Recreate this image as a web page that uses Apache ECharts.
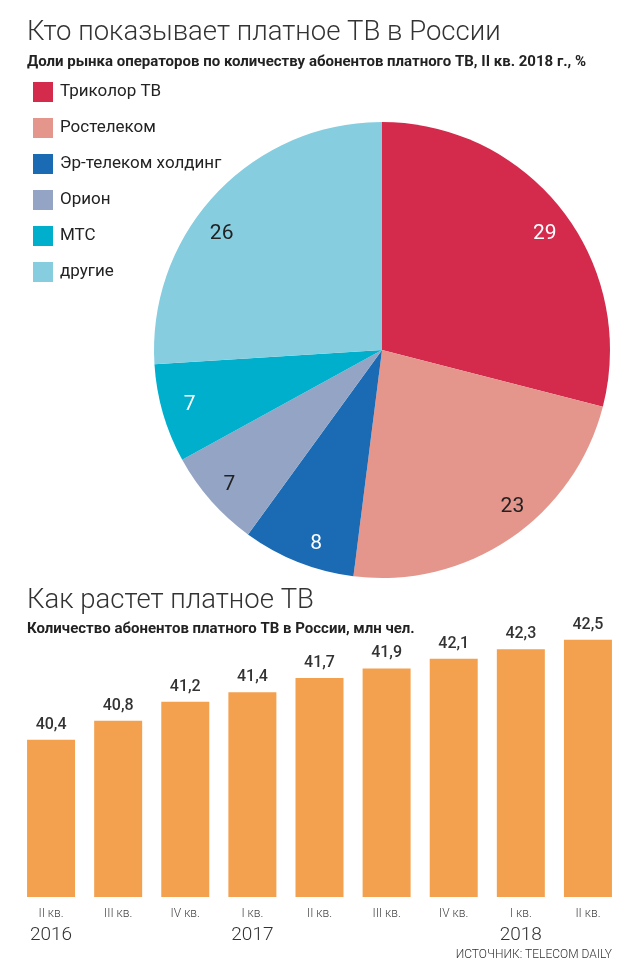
<!DOCTYPE html>
<html><head><meta charset="utf-8">
<script src="https://cdn.jsdelivr.net/npm/echarts@6/dist/echarts.min.js"></script>
<style>html,body{margin:0;padding:0;background:#fff}#c{width:626px;height:967px}</style>
</head><body><div id="c"></div>
<script>
var operators = ['Триколор ТВ','Ростелеком','Эр-телеком холдинг','Орион','МТС','другие'];
var shares = [29, 23, 8, 7, 7, 26];
var sliceColors = ['#D42A4C','#E5968C','#1A6AB4','#93A4C4','#00AFCC','#87CDE0'];
var shareLabelColors = ['#fff','#222','#fff','#222','#fff','#222'];
var shareLabelNudge = [[2,8],[16,-12],[9,5],[0,0],[3,-2],[-12,23]];

var quarters = ['II кв.','III кв.','IV кв.','I кв.','II кв.','III кв.','IV кв.','I кв.','II кв.'];
var years = ['2016','','','2017','','','','2018',''];
var subscribers = [40.4, 40.8, 41.2, 41.4, 41.7, 41.9, 42.1, 42.3, 42.5];

var font = 'Roboto,sans-serif';
var chart = echarts.init(document.getElementById('c'), null, {renderer:'canvas'});
var catLabels = quarters.map(function(q,i){ return years[i] ? q + '\n' + years[i] : q; });

chart.setOption({
  animation:false,
  title:[
    {text:'Кто показывает платное ТВ в России', left:22, top:14, textStyle:{fontFamily:font, fontWeight:300, fontSize:27.5, color:'#333'}},
    {text:'Доли рынка операторов по количеству абонентов платного ТВ, II кв. 2018 г., %', left:22, top:50, textStyle:{fontFamily:font, fontWeight:'bold', fontSize:15, color:'#222'}},
    {text:'Как растет платное ТВ', left:22, top:582, textStyle:{fontFamily:font, fontWeight:300, fontSize:27.5, color:'#333'}},
    {text:'Количество абонентов платного ТВ в России, млн чел.', left:22, top:617, textStyle:{fontFamily:font, fontWeight:'bold', fontSize:15, color:'#222'}}
  ],
  legend:{
    orient:'vertical', left:33, top:82, padding:0, itemWidth:20, itemHeight:20, itemGap:16,
    icon:'rect', selectedMode:false,
    data: operators.map(function(n,i){ return {name:n, itemStyle:{color:sliceColors[i]}}; }),
    textStyle:{fontFamily:font, fontSize:17, color:'#222', padding:[0,0,0,2]}
  },
  grid:{left:17.5, right:4.5, top:616, bottom:70},
  xAxis:{
    type:'category', data:catLabels,
    axisLine:{show:false}, axisTick:{show:false},
    axisLabel:{interval:0, margin:9, color:'#444',
      formatter:function(v){ var p=v.split('\n'); return p.length>1 ? '{q|'+p[0]+'}\n{y|'+p[1]+'}' : '{q|'+p[0]+'}'; },
      rich:{q:{fontFamily:font, fontWeight:300, fontSize:12, lineHeight:16, color:'#444'}, y:{fontFamily:font, fontWeight:300, fontSize:19, lineHeight:26, color:'#333'}}
    }
  },
  yAxis:{type:'value', min:37.1, max:43, show:false, splitLine:{show:false}},
  series:[
    {type:'pie', center:[382,350], radius:[0,228], startAngle:90, clockwise:true, silent:true,
      label:{show:false}, labelLine:{show:false},
      data: operators.map(function(n,i){ return {name:n, value:shares[i], itemStyle:{color:sliceColors[i]}}; })
    },
    {type:'pie', center:[382,350], radius:[173,228], startAngle:90, clockwise:true, silent:true,
      itemStyle:{color:'rgba(0,0,0,0)'}, labelLine:{show:false},
      label:{show:true, position:'inside', fontFamily:font, fontSize:21, formatter:'{c}'},
      data: operators.map(function(n,i){ return {name:n+' ', value:shares[i], label:{color:shareLabelColors[i], offset:shareLabelNudge[i]}}; })
    },
    {type:'bar', data:subscribers, barWidth:48, itemStyle:{color:'#F3A14E'},
      label:{show:true, position:'top', distance:7, fontFamily:font, fontWeight:500, fontSize:16, color:'#333',
        formatter:function(p){ return String(p.value).replace('.',','); }}
    }
  ],
  graphic:[
    {type:'text', right:14, top:949, style:{text:'ИСТОЧНИК: TELECOM DAILY', fontFamily:font, fontWeight:300, fontSize:12, fill:'#333'}}
  ]
});
</script></body></html>
